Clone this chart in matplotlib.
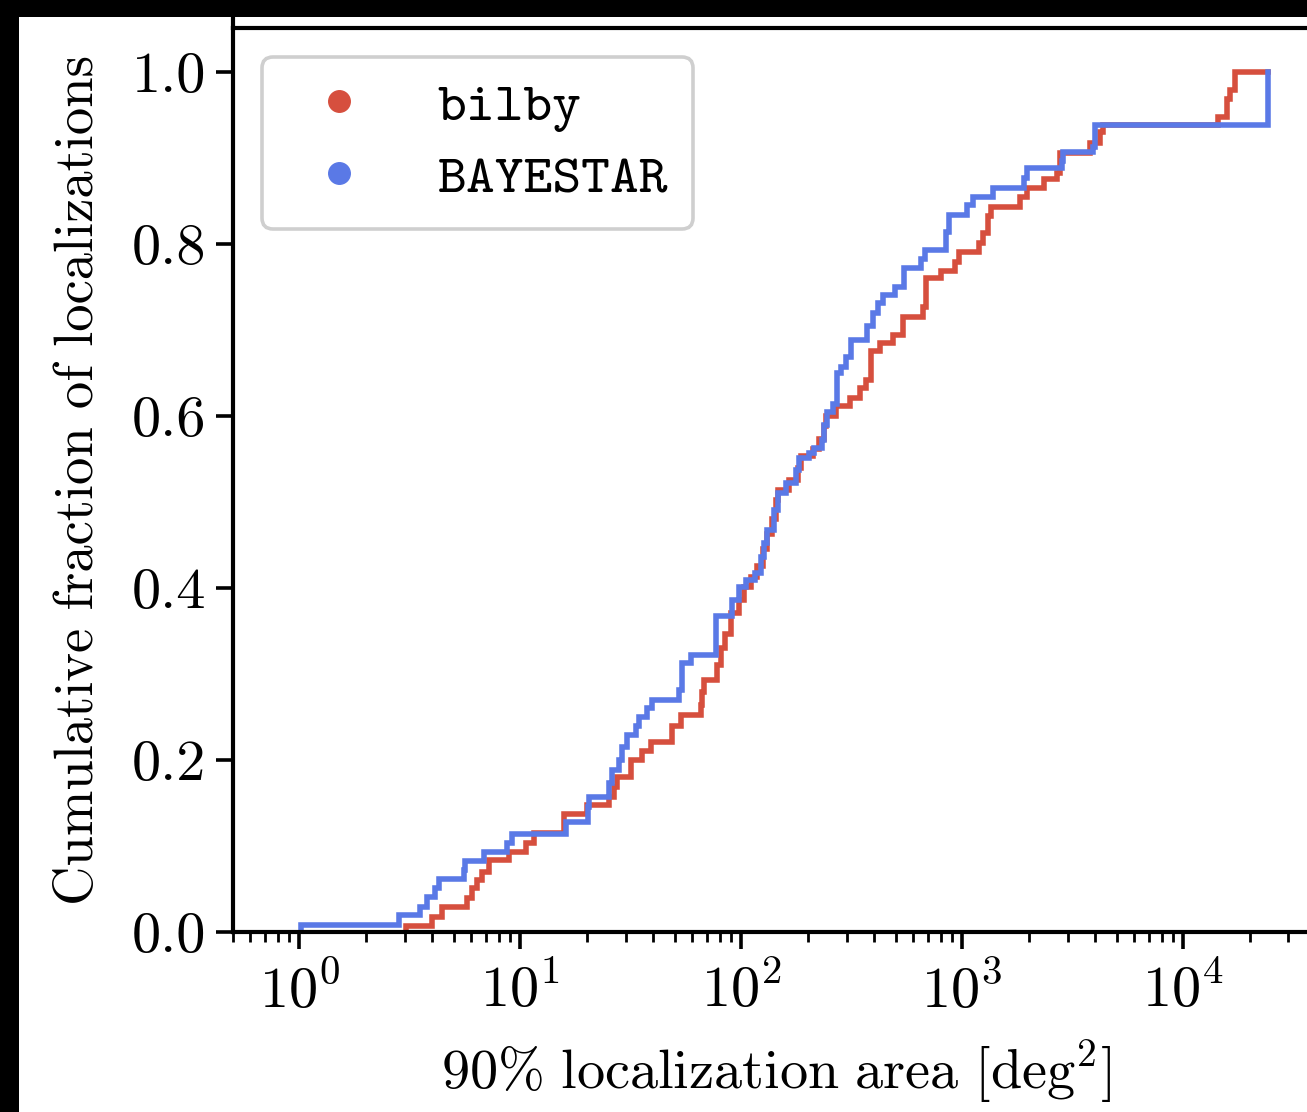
"""Cumulative distribution of 90% localization areas: bilby vs BAYESTAR."""

import matplotlib

matplotlib.use("Agg")
import numpy as np  # noqa: E402
from matplotlib import pyplot as plt  # noqa: E402
from matplotlib.lines import Line2D  # noqa: E402
from matplotlib.patches import Rectangle  # noqa: E402

_RED = "#d64f3e"
_BLUE = "#5a79e6"
_FRAME = "#cfcfcf"

# step positions (deg^2) and cumulative fraction reached at each step
bilby_area = [
    3.02, 3.97, 4.41, 5.72, 6.03, 6.35, 6.69, 7.19, 8.87, 10.6,
    11.5, 15.8, 20.0, 25.2, 26.5, 27.4, 31.6, 35.6, 38.9, 48.7,
    53.3, 65.6, 66.3, 68.0, 77.8, 80.9, 84.2, 89.8, 98.0, 103,
    111, 118, 125, 131, 138, 143, 147, 165, 180, 187,
    212, 226, 236, 243, 269, 309, 343, 367, 387, 423,
    484, 537, 662, 688, 804, 925, 964, 1188, 1239, 1306,
    1356, 1823, 1962, 2342, 2684, 2768, 3786, 4205, 4336, 14420,
    15780, 16330, 17220, 24280,
]
bilby_frac = [
    0.007, 0.018, 0.029, 0.039, 0.051, 0.060, 0.070, 0.084, 0.093, 0.103,
    0.115, 0.137, 0.148, 0.157, 0.169, 0.180, 0.200, 0.210, 0.221, 0.240,
    0.252, 0.264, 0.279, 0.293, 0.310, 0.330, 0.347, 0.371, 0.386, 0.401,
    0.413, 0.425, 0.445, 0.463, 0.480, 0.502, 0.514, 0.526, 0.540, 0.553,
    0.562, 0.573, 0.588, 0.600, 0.611, 0.621, 0.633, 0.642, 0.675, 0.685,
    0.694, 0.715, 0.727, 0.760, 0.768, 0.779, 0.790, 0.801, 0.813, 0.832,
    0.843, 0.855, 0.865, 0.876, 0.883, 0.906, 0.917, 0.930, 0.938, 0.948,
    0.969, 0.979, 1.000, 1.000,
]

bayestar_area = [
    1.02, 2.81, 3.53, 3.77, 4.12, 4.27, 5.54, 5.64, 6.83, 8.68,
    9.15, 16.1, 20.2, 20.5, 25.2, 26.0, 28.0, 28.9, 30.4, 33.3,
    34.5, 37.5, 39.5, 52.3, 54.0, 59.1, 76.8, 90.6, 98.0, 105,
    115, 123, 127, 131, 141, 146, 160, 177, 183, 203,
    214, 233, 238, 245, 259, 272, 283, 298, 314, 372,
    393, 414, 436, 499, 548, 653, 676, 848, 869, 1047,
    1117, 1374, 1901, 1972, 2844, 2871, 3909, 3991, 24280,
]
bayestar_frac = [
    0.008, 0.020, 0.029, 0.041, 0.051, 0.062, 0.072, 0.082, 0.093, 0.104,
    0.114, 0.128, 0.145, 0.157, 0.173, 0.188, 0.200, 0.215, 0.229, 0.239,
    0.250, 0.260, 0.270, 0.281, 0.313, 0.322, 0.367, 0.386, 0.401, 0.409,
    0.417, 0.436, 0.452, 0.467, 0.491, 0.510, 0.522, 0.537, 0.551, 0.557,
    0.563, 0.572, 0.590, 0.605, 0.614, 0.650, 0.657, 0.669, 0.688, 0.704,
    0.720, 0.731, 0.741, 0.750, 0.772, 0.783, 0.793, 0.814, 0.834, 0.845,
    0.855, 0.865, 0.877, 0.888, 0.896, 0.907, 0.913, 0.938, 1.000,
]

labels = ["bilby", "BAYESTAR"]
y_ticks = [0.0, 0.2, 0.4, 0.6, 0.8, 1.0]

plt.rcParams.update(
    {
        "font.family": "serif",
        "font.serif": ["cmr10"],
        "mathtext.fontset": "cm",
        "axes.formatter.use_mathtext": True,
        "font.size": 40,
    }
)


def _draw_cdf(ax, area, frac, color):
    x = np.r_[area[0], area]
    y = np.r_[0.0, frac]
    ax.step(x, y, where="post", color=color, linewidth=4.0, solid_joinstyle="miter")


fig = plt.figure(figsize=(13.07, 11.12), dpi=100, facecolor="white")
ax = fig.add_axes((233 / 1307, 180 / 1112, 1086 / 1307, 904 / 1112))

_draw_cdf(ax, bilby_area, bilby_frac, _RED)
_draw_cdf(ax, bayestar_area, bayestar_frac, _BLUE)

ax.set_xscale("log")
ax.set_xlim(0.5, 41253)
ax.set_ylim(0.0, 1.051)
ax.set_yticks(y_ticks)
ax.yaxis.set_major_formatter(matplotlib.ticker.FormatStrFormatter("%.1f"))

for side in ("left", "bottom", "top", "right"):
    ax.spines[side].set_linewidth(3.0)
ax.tick_params(axis="both", which="major", length=12.5, width=2.6, direction="out",
               labelsize=42)
ax.tick_params(axis="x", which="minor", length=7.2, width=2.0, direction="out")
ax.tick_params(axis="y", which="major", pad=7)
ax.tick_params(axis="x", which="major", pad=10)

ax.set_xlabel(r"$\mathrm{90\%\ localization\ area\ [deg^{2}]}$", fontsize=40.5,
              labelpad=14)
ax.set_ylabel("Cumulative fraction of localizations", fontsize=39.3, labelpad=20)

handles = [
    Line2D([], [], marker="o", linestyle="none", color=c, markersize=15.5)
    for c in (_RED, _BLUE)
]
leg = ax.legend(
    handles,
    labels,
    loc="upper left",
    prop={"family": "cmtt10", "size": 39.5},
    borderaxespad=0.53,
    borderpad=0.45,
    handlelength=1.9,
    handletextpad=0.85,
    labelspacing=0.4,
    framealpha=1.0,
    edgecolor=_FRAME,
)
leg.get_frame().set_linewidth(2.6)

# dark screenshot margins at top and left
fig.patches.append(
    Rectangle((0, 1 - 17 / 1112), 1, 17 / 1112, transform=fig.transFigure,
              facecolor="black", edgecolor="none", zorder=10)
)
fig.patches.append(
    Rectangle((0, 0), 19 / 1307, 1, transform=fig.transFigure,
              facecolor="black", edgecolor="none", zorder=10)
)
fig.add_artist(
    Line2D([233 / 1307, 233 / 1307], [1 - 28 / 1112, 1 - 17 / 1112],
           transform=fig.transFigure, color="black", linewidth=3.0)
)

fig.savefig("out.png", dpi=100, facecolor="white")
plt.close(fig)
